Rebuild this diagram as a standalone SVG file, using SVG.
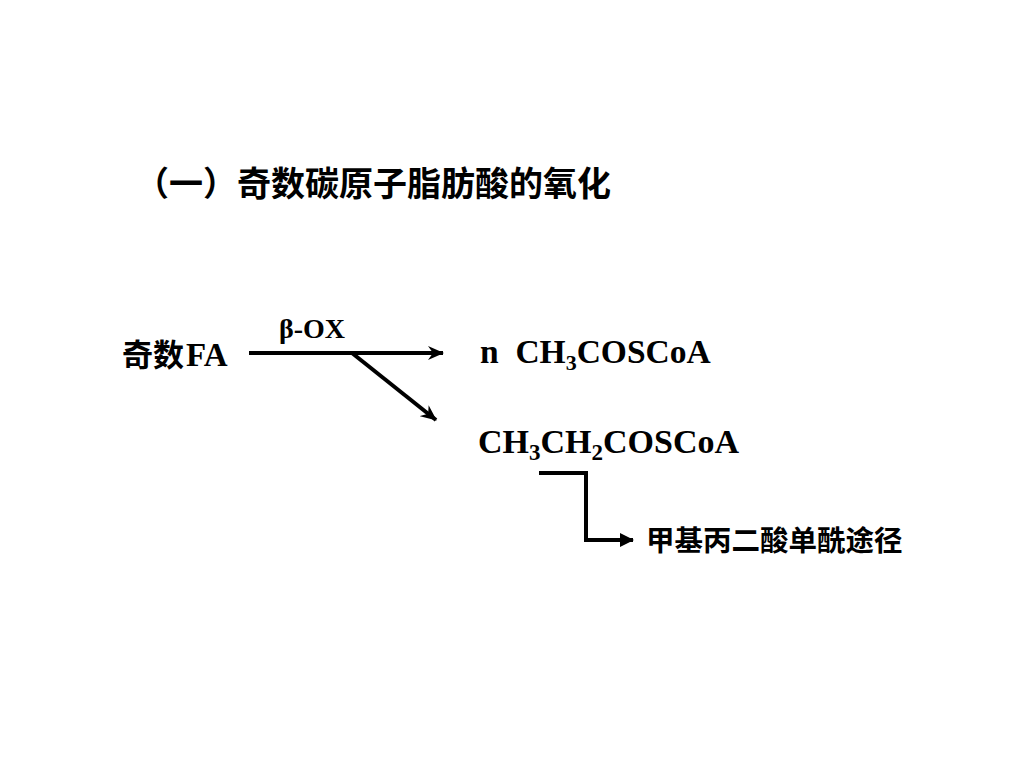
<svg xmlns="http://www.w3.org/2000/svg" width="1024" height="768" viewBox="0 0 1024 768">
<style>
.cjk{font-family:"Noto Sans CJK SC","Noto Sans",sans-serif;font-weight:bold;fill:#000}
.lat{font-family:"Liberation Serif","Times New Roman",serif;font-weight:bold;fill:#000}
.ln{stroke:#000;stroke-width:4;fill:none}
</style>
<defs>
<marker id="barb" viewBox="0 0 16 14" refX="15" refY="7" markerWidth="16" markerHeight="14" markerUnits="userSpaceOnUse" orient="auto">
<path d="M0,0 L16,7 L0,14 L5,7 Z" fill="#000"/>
</marker>
<marker id="tri" viewBox="0 0 14 14" refX="13" refY="7" markerWidth="14" markerHeight="14" markerUnits="userSpaceOnUse" orient="auto">
<path d="M0,0 L14,7 L0,14 Z" fill="#000"/>
</marker>
</defs>
<rect width="1024" height="768" fill="#fff"/>
<g id="title"><text class="cjk" x="135" y="196" font-size="34">（一）奇数碳原子脂肪酸的氧化</text></g>
<g id="node-oddFA"><text class="cjk" x="122" y="366" font-size="31">奇数</text><text class="lat" x="186" y="366" font-size="33">FA</text></g>
<g id="label-betaOX"><text class="lat" x="279" y="338" font-size="28">β-OX</text></g>
<g id="node-acetylCoA"><text class="lat" x="480" y="363" font-size="33.5" xml:space="preserve">n  CH<tspan font-size="22" dy="7">3</tspan><tspan dy="-7">COSCoA</tspan></text></g>
<g id="node-propionylCoA"><text class="lat" x="478" y="453" font-size="34">CH<tspan font-size="23" dy="7">3</tspan><tspan dy="-7">CH</tspan><tspan font-size="23" dy="7">2</tspan><tspan dy="-7">COSCoA</tspan></text></g>
<g id="node-pathway"><text class="cjk" x="646" y="551" font-size="28.5">甲基丙二酸单酰途径</text></g>
<g id="connectors">
<path class="ln" d="M249,353 L443,353" marker-end="url(#barb)"/>
<path class="ln" d="M352,353 L436,420" marker-end="url(#barb)"/>
<path class="ln" d="M539,473 L586,473 L586,540 L633,540" marker-end="url(#tri)"/>
</g>
</svg>
